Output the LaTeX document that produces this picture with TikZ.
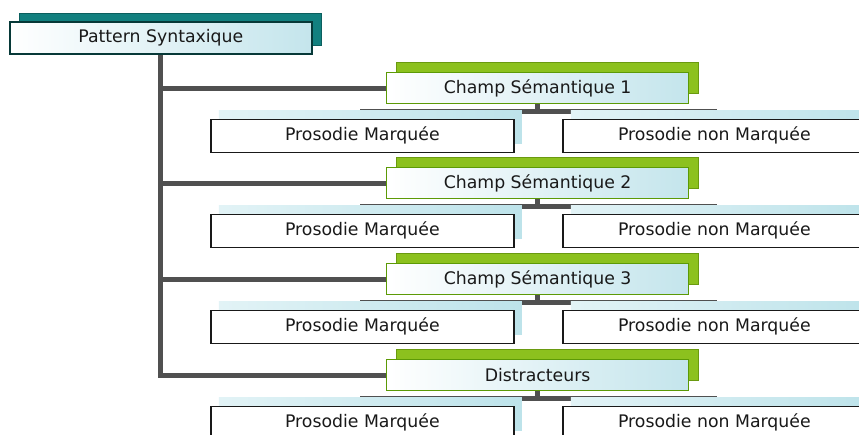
\documentclass[tikz,border=0pt]{standalone}
\usepackage{fontspec}
\setmainfont{DejaVu Sans}
\usetikzlibrary{shadows}
\pgfdeclarelayer{background}
\pgfsetlayers{background,main}
\definecolor{teal1}{HTML}{12807F}
\definecolor{teal2}{HTML}{0B5F5E}
\definecolor{grn}{HTML}{8CC11E}
\definecolor{grnd}{HTML}{6A9A10}
\definecolor{grnb}{HTML}{5C9A06}
\definecolor{lb}{HTML}{C4E5EC}
\definecolor{lbs}{HTML}{BDE3EA}
\definecolor{lbs0}{HTML}{E2F3F6}
\definecolor{connc}{HTML}{505050}
\begin{document}
\begin{tikzpicture}[x=1pt,y=-1pt,
  font=\fontsize{17.3}{20}\selectfont,
  box/.style={anchor=north west, inner sep=0pt, minimum width=302pt, align=center, text=black!90},
  topbox/.style={box, minimum height=32pt, draw=teal2!60!black, line width=1.6pt,
    left color=white, right color=lb,
    general shadow={fill=teal1, draw=teal2, line width=0.8pt, shadow xshift=10pt, shadow yshift=8pt}},
  semabox/.style={box, minimum height=31pt, draw=grnb, line width=1.2pt,
    left color=white, right color=lb,
    general shadow={fill=grn, draw=grnd, line width=0.6pt, shadow xshift=10pt, shadow yshift=10pt}},
  leafbox/.style={box, minimum width=303pt, minimum height=33pt, draw=black!90, line width=1.7pt, fill=white,
    general shadow={left color=lbs0, right color=lbs, shadow xshift=8pt, shadow yshift=8.5pt}},
  trunk/.style={draw=connc, line width=5pt},
  link/.style={draw=connc, line width=5pt},
]
\useasboundingbox (0,0) rectangle (859,434);
\clip (0,0) rectangle (859,434);

\node[topbox] (pat) at (9,21) {Pattern Syntaxique};

\node[semabox] (c1) at (386,72) {Champ Sémantique 1};
\node[semabox] (c2) at (386,167) {Champ Sémantique 2};
\node[semabox] (c3) at (386,263) {Champ Sémantique 3};
\node[semabox] (c4) at (386,359) {Distracteurs};

\node[leafbox] (l1a) at (210,118.5) {Prosodie Marquée};
\node[leafbox] (l1b) at (562,118.5) {Prosodie non Marquée};
\node[leafbox] (l2a) at (210,213.5) {Prosodie Marquée};
\node[leafbox] (l2b) at (562,213.5) {Prosodie non Marquée};
\node[leafbox] (l3a) at (210,309.5) {Prosodie Marquée};
\node[leafbox] (l3b) at (562,309.5) {Prosodie non Marquée};
\node[leafbox] (l4a) at (210,405.5) {Prosodie Marquée};
\node[leafbox] (l4b) at (562,405.5) {Prosodie non Marquée};

\begin{pgfonlayer}{background}
  \draw[trunk] (pat.south) |- (c1.west);
  \draw[trunk] (pat.south) |- (c2.west);
  \draw[trunk] (pat.south) |- (c3.west);
  \draw[trunk] (pat.south) |- (c4.west);
  \foreach \c/\a/\b in {c1/l1a/l1b, c2/l2a/l2b, c3/l3a/l3b, c4/l4a/l4b}{
    \draw[link] (\c.south) -- ++(0,7) -| (\a.north);
    \draw[link] (\c.south) -- ++(0,7) -| (\b.north);
  }
\end{pgfonlayer}
\end{tikzpicture}
\end{document}
